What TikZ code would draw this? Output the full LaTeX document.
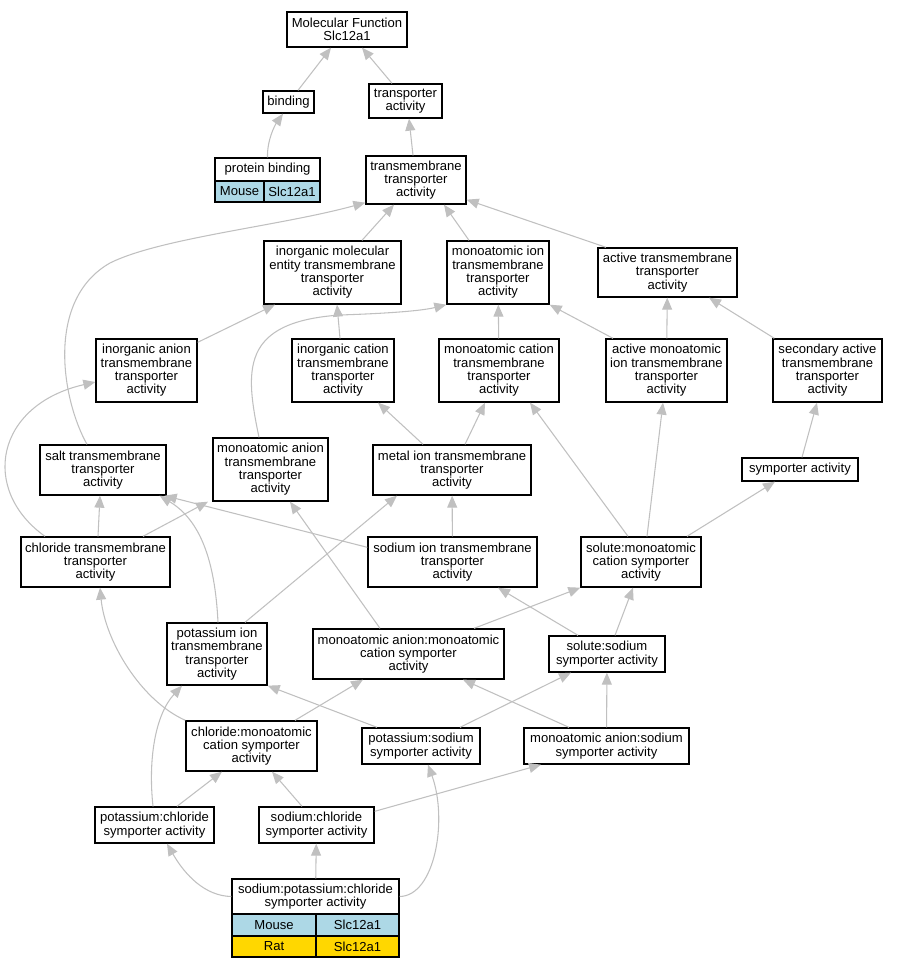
\documentclass[tikz,border=0pt]{standalone}
\usepackage{fontspec}
\setmainfont{Liberation Sans}
\usetikzlibrary{arrows.meta,calc}
\definecolor{isagray}{HTML}{C0C0C0}
\definecolor{mouseblue}{HTML}{ADD8E6}
\definecolor{ratgold}{HTML}{FFD700}
\newcommand{\gofont}{\fontsize{9.8}{10}\selectfont}
\begin{document}
\begin{tikzpicture}[x=0.75pt,y=-0.75pt,
  term/.style={draw,line width=1pt,fill=white,align=center,inner sep=0pt,font=\gofont},
  sz/.style 2 args={minimum width=#1*0.75pt,minimum height=#2*0.75pt},
  isa/.style={draw=isagray,line width=0.8pt,-{Triangle[length=9pt,width=7.5pt]}}]
\useasboundingbox (0,0) rectangle (898,968);
\node[term,sz={120}{35}] (mf) at (347,29.5) {Molecular Function\\Slc12a1};
\node[term,sz={51}{22}] (binding) at (288.5,102) {binding};
\node[term,sz={73}{34}] (tra) at (405.5,101) {transporter\\activity};
\node[term,sz={105}{23}] (pb) at (267.5,169.5) {protein binding};
\node[term,sz={49}{21},fill=mouseblue] (pbm) at (239.5,191.5) {Mouse};
\node[term,sz={56}{21},fill=mouseblue] (pbg) at (292,191.5) {Slc12a1};
\node[term,sz={100}{48}] (tmt) at (416,180) {transmembrane\\transporter\\activity};
\node[term,sz={137}{63}] (ime) at (332.5,272.5) {inorganic molecular\\entity transmembrane\\transporter\\activity};
\node[term,sz={102}{63}] (mi) at (498,272.5) {monoatomic ion\\transmembrane\\transporter\\activity};
\node[term,sz={139}{49}] (atmt) at (667.5,272.5) {active transmembrane\\transporter\\activity};
\node[term,sz={101}{63}] (ia) at (146.5,370.5) {inorganic anion\\transmembrane\\transporter\\activity};
\node[term,sz={102}{63}] (ic) at (343,370.5) {inorganic cation\\transmembrane\\transporter\\activity};
\node[term,sz={120}{63}] (mc) at (499,370.5) {monoatomic cation\\transmembrane\\transporter\\activity};
\node[term,sz={121}{63}] (ami) at (666.5,370.5) {active monoatomic\\ion transmembrane\\transporter\\activity};
\node[term,sz={109}{63}] (sa) at (827.5,370.5) {secondary active\\transmembrane\\transporter\\activity};
\node[term,sz={126}{50}] (salt) at (103,470) {salt transmembrane\\transporter\\activity};
\node[term,sz={115}{63}] (ma) at (270.5,469.5) {monoatomic anion\\transmembrane\\transporter\\activity};
\node[term,sz={158}{50}] (metal) at (452,470) {metal ion transmembrane\\transporter\\activity};
\node[term,sz={116}{23}] (sym) at (800,469.5) {symporter activity};
\node[term,sz={149}{50}] (cl) at (95.5,562) {chloride transmembrane\\transporter\\activity};
\node[term,sz={169}{50}] (na) at (452.5,562) {sodium ion transmembrane\\transporter\\activity};
\node[term,sz={120}{50}] (smc) at (641,562) {solute:monoatomic\\cation symporter\\activity};
\node[term,sz={100}{62}] (k) at (217,654) {potassium ion\\transmembrane\\transporter\\activity};
\node[term,sz={191}{50}] (mamc) at (408.5,654) {monoatomic anion:monoatomic\\cation symporter\\activity};
\node[term,sz={116}{36}] (ss) at (607,654) {solute:sodium\\symporter activity};
\node[term,sz={131}{50}] (cmc) at (251.5,746) {chloride:monoatomic\\cation symporter\\activity};
\node[term,sz={118}{36}] (ps) at (421,746) {potassium:sodium\\symporter activity};
\node[term,sz={165}{36}] (mas) at (606.5,746) {monoatomic anion:sodium\\symporter activity};
\node[term,sz={119}{36}] (kc) at (154.5,825) {potassium:chloride\\symporter activity};
\node[term,sz={115}{36}] (nc) at (316.5,825) {sodium:chloride\\symporter activity};
\node[term,sz={167}{35}] (nkcc) at (315.5,896.5) {sodium:potassium:chloride\\symporter activity};
\node[term,sz={84}{22},fill=mouseblue] (nkccm) at (274,925) {Mouse};
\node[term,sz={83}{22},fill=mouseblue] (nkccmg) at (357.5,925) {Slc12a1};
\node[term,sz={84}{21},fill=ratgold] (nkccr) at (274,946.5) {Rat};
\node[term,sz={83}{21},fill=ratgold] (nkccrg) at (357.5,946.5) {Slc12a1};
\draw[isa] ($(binding.north)+(9.5,0)$) -- ($(mf.south)+(-16,0)$);
\draw[isa] ($(tra.north)+(-13.5,0)$) -- ($(mf.south)+(15,0)$);
\draw[isa] (pb.north) .. controls (267,140) and (275,125) .. ($(binding.south)+(-5.5,0)$);
\draw[isa] ($(tmt.north)+(-3,0)$) -- ($(tra.south)+(3.5,0)$);
\draw[isa] ($(ime.north)+(29.5,0)$) -- ($(tmt.south)+(-22,0)$);
\draw[isa] ($(mi.north)+(-29,0)$) -- ($(tmt.south)+(28,0)$);
\draw[isa] ($(atmt.north)+(-61.5,0)$) -- ($(tmt.south east)+(0,-5)$);
\draw[isa] ($(salt.north)+(-16,0)$) .. controls (62,400) and (45,300) .. (110,263) .. controls (160,238) and (280,226) .. ($(tmt.south west)+(0,-2)$);
\draw[isa] ($(ia.north east)+(0,4)$) -- ($(ime.south)+(-57.5,0)$);
\draw[isa] ($(ic.north)+(-3,0)$) -- ($(ime.south)+(4.5,0)$);
\draw[isa] ($(ma.north)+(-11.5,0)$) .. controls (245,370) and (240,322) .. (340,315) .. controls (400,313) and (425,310) .. (mi.south west);
\draw[isa] (mc) -- (mi);
\draw[isa] ($(ami.north)+(-53.5,0)$) -- (mi.south east);
\draw[isa] (ami) -- (atmt);
\draw[isa] ($(sa.north west)+(2,0)$) -- ($(atmt.south)+(41.5,0)$);
\draw[isa] ($(metal.north)+(-29,0)$) -- ($(ic.south)+(35,0)$);
\draw[isa] ($(metal.north)+(13,0)$) -- ($(mc.south)+(-14,0)$);
\draw[isa] ($(smc.north)+(-13,0)$) -- ($(mc.south)+(31,0)$);
\draw[isa] ($(smc.north)+(6,0)$) -- ($(ami.south)+(-3.5,0)$);
\draw[isa] ($(smc.north)+(46,0)$) -- ($(sym.south)+(-25,0)$);
\draw[isa] ($(sym.north)+(2,0)$) -- ($(sa.south)+(-10.5,0)$);
\draw[isa] ($(cl.north)+(2.5,0)$) -- ($(salt.south)+(-3,0)$);
\draw[isa] ($(cl.north)+(47.5,0)$) -- ($(ma.south)+(-62.5,0)$);
\draw[isa] ($(cl.north)+(-50.5,0)$) .. controls (-20,490) and (-5,405) .. ($(ia.west)+(0,11.5)$);
\draw[isa] ($(k.north)+(1,0)$) .. controls (215,560) and (200,520) .. ($(salt.south east)+(-7,0)$);
\draw[isa] ($(na.north west)+(0,11)$) -- ($(salt.south east)+(-2,0)$);
\draw[isa] (na) -- (metal);
\draw[isa] ($(k.north)+(28,0)$) -- ($(metal.south)+(-55,0)$);
\draw[isa] ($(mamc.north)+(-28.5,0)$) -- ($(ma.south)+(19.5,0)$);
\draw[isa] ($(mamc.north)+(65.5,0)$) -- (smc.south west);
\draw[isa] ($(ss.north)+(8,0)$) -- ($(smc.south)+(-8,0)$);
\draw[isa] ($(ss.north)+(-29,0)$) -- ($(na.south)+(45.5,0)$);
\draw[isa] (cmc.north west) .. controls (140,700) and (105,640) .. ($(cl.south)+(4.5,0)$);
\draw[isa] ($(cmc.north)+(43.5,0)$) -- ($(mamc.south)+(-45.5,0)$);
\draw[isa] ($(ps.north)+(-44,0)$) -- (k.south east);
\draw[isa] ($(ps.north)+(39,0)$) -- ($(ss.south)+(-36,0)$);
\draw[isa] (mas) -- (ss);
\draw[isa] ($(mas.north)+(-37.5,0)$) -- ($(mamc.south)+(54.5,0)$);
\draw[isa] ($(kc.north)+(-1.5,0)$) .. controls (148,760) and (155,715) .. ($(k.south)+(-35,0)$);
\draw[isa] ($(kc.north)+(22.5,0)$) -- ($(cmc.south)+(-29.5,0)$);
\draw[isa] ($(nc.north)+(-14.5,0)$) -- ($(cmc.south)+(20.5,0)$);
\draw[isa] ($(nc.north east)+(0,5)$) -- ($(mas.south)+(-65.5,0)$);
\draw[isa] (nkcc.west) .. controls (205,896) and (185,875) .. ($(kc.south)+(12.5,0)$);
\draw[isa] (nkcc) -- (nc);
\draw[isa] (nkcc.east) .. controls (435,896) and (448,820) .. ($(ps.south)+(7,0)$);
\end{tikzpicture}
\end{document}
